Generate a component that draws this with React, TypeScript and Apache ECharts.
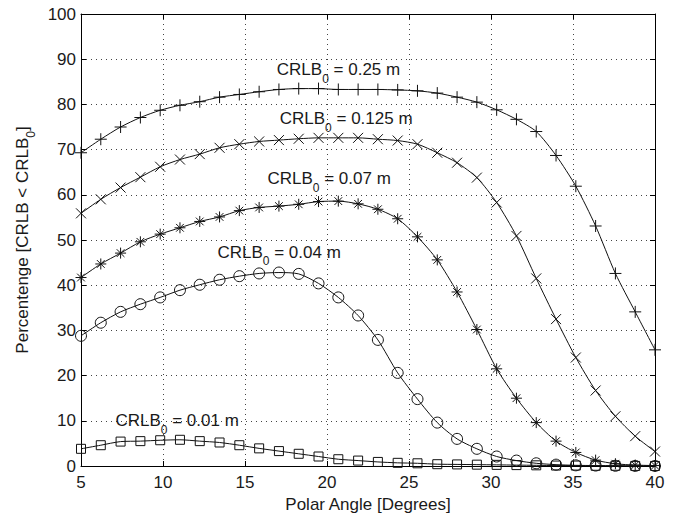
import React, { useEffect, useRef } from "react";
import * as echarts from "echarts";

const angles = [
  5, 6.207, 7.414, 8.621, 9.828, 11.034, 12.241, 13.448, 14.655, 15.862,
  17.069, 18.276, 19.483, 20.69, 21.897, 23.103, 24.31, 25.517, 26.724, 27.931,
  29.138, 30.345, 31.552, 32.759, 33.966, 35.172, 36.379, 37.586, 38.793, 40,
];

const crlb025 = [
  69.3, 72.3, 75.0, 77.1, 78.7, 79.8, 80.6, 81.6, 82.2, 82.8,
  83.3, 83.5, 83.5, 83.3, 83.3, 83.3, 83.2, 83.0, 82.5, 81.6,
  80.5, 78.8, 76.7, 74.0, 68.7, 61.9, 53.1, 42.6, 34.1, 25.7,
];
const crlb0125 = [
  55.9, 59.0, 61.6, 63.9, 66.2, 67.8, 69.0, 70.4, 71.2, 71.8,
  72.1, 72.4, 72.6, 72.6, 72.6, 72.3, 72.0, 71.2, 69.3, 67.1,
  63.8, 58.3, 50.9, 41.5, 32.5, 24.0, 16.7, 11.0, 6.6, 3.2,
];
const crlb007 = [
  41.7, 44.7, 47.1, 49.6, 51.3, 52.7, 54.1, 55.1, 56.5, 57.2,
  57.5, 57.9, 58.5, 58.6, 58.0, 56.8, 54.7, 50.7, 45.6, 38.5,
  30.2, 21.5, 15.0, 9.6, 5.5, 3.0, 1.3, 0.5, 0.2, 0.1,
];
const crlb004 = [
  28.8, 31.7, 34.1, 35.8, 37.3, 38.9, 40.1, 41.2, 42.0, 42.6,
  42.8, 42.5, 40.4, 37.3, 33.3, 27.9, 20.6, 14.8, 9.6, 6.0,
  3.8, 2.1, 1.2, 0.6, 0.3, 0.15, 0.1, 0.05, 0.02, 0.01,
];
const crlb001 = [
  3.8, 4.6, 5.4, 5.5, 5.7, 5.8, 5.5, 5.2, 4.6, 3.9,
  3.3, 2.7, 2.1, 1.5, 1.2, 0.9, 0.7, 0.6, 0.4, 0.35,
  0.3, 0.25, 0.2, 0.15, 0.1, 0.1, 0.05, 0.05, 0.02, 0.01,
];

const seriesNames = ["0.25 m", "0.125 m", "0.07 m", "0.04 m", "0.01 m"];
const seriesValues = [crlb025, crlb0125, crlb007, crlb004, crlb001];

const plusPath = "path://M5,0 L5,10 M0,5 L10,5";
const crossPath = "path://M0,0 L10,10 M10,0 L0,10";
const starPath = "path://M5,0 L5,10 M0,5 L10,5 M1.5,1.5 L8.5,8.5 M8.5,1.5 L1.5,8.5";
const circlePath = "circle";
const squarePath = "path://M0,0 L10,0 L10,10 L0,10 Z";
const symbols = [plusPath, crossPath, starPath, circlePath, squarePath];
const symbolSizes = [12, 10, 11, 11, 9];

// annotation anchors (data coordinates of the left/middle of each label)
const labelAnchors = [
  [16.94, 87.7],
  [17.12, 76.8],
  [16.37, 63.5],
  [13.32, 47.3],
  [7.1, 10.0],
];

const FONT = "'Liberation Sans', Arial, Helvetica, sans-serif";
const TXT = "#1a1a1a";

export default function App() {
  const ref = useRef<HTMLDivElement>(null);

  useEffect(() => {
    document.body.style.margin = "0";
    if (!ref.current) return;
    const chart = echarts.init(ref.current, undefined, { renderer: "svg" });

    const axisCommon = {
      type: "value" as const,
      axisLine: { show: true, onZero: false, lineStyle: { color: "#000", width: 1 } },
      axisTick: { show: true, inside: true, length: 5, lineStyle: { color: "#000" } },
    };

    chart.setOption({
      animation: false,
      backgroundColor: "#fff",
      textStyle: { fontFamily: FONT },
      grid: {
        left: 81,
        right: 24,
        top: 14,
        bottom: 50,
        containLabel: false,
        outerBoundsMode: "none",
      },
      xAxis: [
        {
          ...axisCommon,
          position: "bottom",
          min: 5,
          max: 40,
          interval: 5,
          name: "Polar Angle [Degrees]",
          nameLocation: "middle",
          nameGap: 28,
          nameTextStyle: { fontSize: 17, color: TXT, fontFamily: FONT },
          axisLabel: { fontSize: 17, color: TXT, margin: 8, fontFamily: FONT },
          splitLine: { show: true, lineStyle: { color: "#444", type: [1, 4], width: 1 } },
        },
        {
          ...axisCommon,
          position: "top",
          min: 5,
          max: 40,
          interval: 5,
          axisLabel: { show: false },
          splitLine: { show: false },
        },
      ],
      yAxis: [
        {
          ...axisCommon,
          position: "left",
          min: 0,
          max: 100,
          interval: 10,
          name: "{a|Percentenge [CRLB < CRLB}{s|0}{a|]}",
          nameLocation: "middle",
          nameGap: 44,
          nameTextStyle: {
            fontSize: 17,
            color: TXT,
            fontFamily: FONT,
            rich: {
              a: { fontSize: 17, color: TXT, fontFamily: FONT, lineHeight: 20 },
              s: {
                fontSize: 12,
                color: TXT,
                fontFamily: FONT,
                lineHeight: 20,
                padding: [16, 0, 0, 0],
              },
            },
          },
          axisLabel: { fontSize: 17, color: TXT, margin: 5, fontFamily: FONT },
          splitLine: { show: true, lineStyle: { color: "#444", type: [1, 4], width: 1 } },
        },
        {
          ...axisCommon,
          position: "right",
          min: 0,
          max: 100,
          interval: 10,
          axisLabel: { show: false },
          splitLine: { show: false },
        },
      ],
      series: seriesValues.map((vals, i) => ({
        name: seriesNames[i],
        type: "line",
        xAxisIndex: 0,
        yAxisIndex: 0,
        data: angles.map((a, j) => [a, vals[j]]),
        smooth: 0.25,
        symbol: symbols[i],
        symbolSize: symbolSizes[i],
        showAllSymbol: true,
        z: 10 - i,
        lineStyle: { color: "#111", width: 1 },
        itemStyle: { color: "transparent", borderColor: "#111", borderWidth: 1 },
        emphasis: { disabled: true },
      })),
    });

    const graphics = labelAnchors.map((anchor, i) => {
      const p = chart.convertToPixel({ gridIndex: 0 }, anchor) as number[];
      return {
        type: "text",
        x: p[0],
        y: p[1],
        z: 100,
        style: {
          text: `{a|CRLB}{s|0}{a| = ${seriesNames[i]}}`,
          align: "left",
          verticalAlign: "middle",
          fill: TXT,
          rich: {
            a: { fontSize: 17, fontFamily: FONT, fill: TXT, color: TXT, lineHeight: 22 },
            s: {
              fontSize: 12,
              fontFamily: FONT,
              fill: TXT,
              color: TXT,
              lineHeight: 22,
              padding: [18, 0, 0, 0],
            },
          },
        },
      };
    });
    chart.setOption({ graphic: graphics });

    return () => chart.dispose();
  }, []);

  return <div ref={ref} style={{ width: 679, height: 516 }} />;
}
